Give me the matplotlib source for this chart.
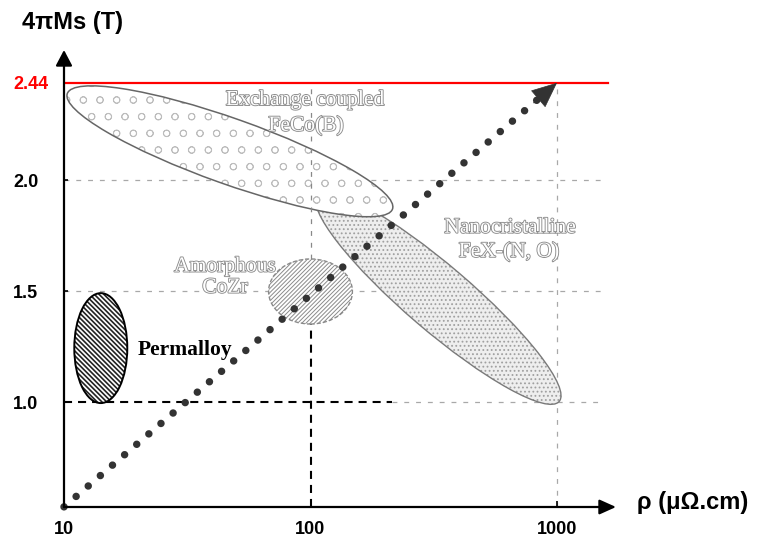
import numpy as np
import matplotlib
matplotlib.use('Agg')
import matplotlib.pyplot as plt
from matplotlib.patches import Ellipse
from matplotlib.transforms import Affine2D
import matplotlib.patheffects as pe

# ---------------- data ----------------
x_ticks = [10, 100, 1000]
x_tick_labels = ['10', '100', '1000']
y_ticks = [1.0, 1.5, 2.0, 2.44]
y_tick_labels = ['1.0', '1.5', '2.0', '2.44']
ms_limit = 2.44

trend_rho = [10, 1000]
trend_ms = [0.53, 2.44]

region_names = ['Permalloy', 'Amorphous CoZr', 'Exchange coupled FeCo(B)', 'Nanocristalline FeX-(N, O)']
region_rho = [14.1, 100, 47.1, 330]
region_ms = [1.245, 1.50, 2.1315, 1.47]
region_half_len = [0.1075, 0.170, 0.700, 0.645]   # in decades
region_half_wid = [0.223, 0.132, 0.1327, 0.132]   # in decade-equivalent
region_angle = [0, 0, -19.55, -40.5]

label_texts = ['Exchange coupled', 'FeCo(B)', 'Nanocristalline', 'FeX-(N, O)', 'Amorphous', 'CoZr']
label_rho = [95, 96, 644, 638, 45, 45]
label_ms = [2.36, 2.245, 1.785, 1.677, 1.61, 1.515]
permalloy_label = ('Permalloy', 31, 1.237)

# ---------------- figure ----------------
W, H = 758, 537
fig = plt.figure(figsize=(W / 100, H / 100), dpi=100)
plt.rcParams['lines.scale_dashes'] = False
plt.rcParams['hatch.linewidth'] = 1.0

ax_l, ax_r, ax_b, ax_t = 64, 616, 507, 50
ax = fig.add_axes([ax_l / W, 1 - ax_b / H, (ax_r - ax_l) / W, (ax_b - ax_t) / H])
xmin, xmax = 1.0, 1.0 + (ax_r - ax_l) / 246.5
ymin = 1.5 - (ax_b - 291.5) / 222.0
ymax = 1.5 + (291.5 - ax_t) / 222.0
ax.set_xlim(xmin, xmax)
ax.set_ylim(ymin, ymax)
for s in ax.spines.values():
    s.set_visible(False)
ax.patch.set_alpha(0)

# ratio px per T / px per decade
r = ((ax_b - ax_t) / (ymax - ymin)) / ((ax_r - ax_l) / (xmax - xmin))

# axes with arrows
ax.annotate('', xy=(0, 1), xytext=(0, 0), xycoords='axes fraction',
            arrowprops=dict(arrowstyle='-|>,head_length=9.5,head_width=5', mutation_scale=1,
                            lw=1.6, color='black', shrinkA=0, shrinkB=0), zorder=10)
ax.annotate('', xy=(1, 0), xytext=(0, 0), xycoords='axes fraction',
            arrowprops=dict(arrowstyle='-|>,head_length=10,head_width=4.5', mutation_scale=1,
                            lw=1.6, color='black', shrinkA=0, shrinkB=0), zorder=10)

# ticks
lx = np.log10(x_ticks)
ax.set_xticks(lx)
ax.set_xticklabels(x_tick_labels, fontfamily='Liberation Sans', fontweight='bold', fontsize=13)
ax.set_yticks(y_ticks)
ax.set_yticklabels(y_tick_labels, fontfamily='Liberation Sans', fontweight='bold', fontsize=13)
ax.tick_params(axis='x', direction='in', length=4, width=1.2, pad=10)
ax.tick_params(axis='y', direction='in', length=3, width=1.2, pad=36.5)
for lbl in ax.get_yticklabels():
    lbl.set_horizontalalignment('left')
ax.get_yticklabels()[-1].set_color('#ff0000')
ax.get_xticklabels()[0].set_x(lx[0] + 4 / 246.5)

gray = '#a8a8a8'
gdash = (0, (3.5, 5.0))
bdash = (0, (5.8, 4.3))
xf_end = (602 - ax_l) / (ax_r - ax_l)
xf_black = (392 - ax_l) / (ax_r - ax_l)

# horizontal guide lines
ax.axhline(ms_limit, xmin=0, xmax=(608 - ax_l) / (ax_r - ax_l), color='#ff0000', lw=1.6, zorder=4)
ax.axhline(2.0, xmin=0, xmax=xf_end, color=gray, lw=0.9, ls=gdash, zorder=1)
ax.axhline(1.5, xmin=0, xmax=xf_end, color=gray, lw=0.9, ls=gdash, zorder=1)
ax.axhline(1.0, xmin=0, xmax=xf_black, color='black', lw=1.5, ls=bdash, zorder=1)
ax.axhline(1.0, xmin=xf_black, xmax=xf_end, color=gray, lw=0.9, ls=gdash, zorder=1)

# vertical guide lines
x100 = np.log10(100)
x1000 = np.log10(1000)
co_i = 1
co_top = region_ms[co_i] + region_half_wid[co_i] / r
co_bot = region_ms[co_i] - region_half_wid[co_i] / r
ax.plot([x1000, x1000], [ymin, ms_limit], color=gray, lw=0.9, ls=gdash, zorder=1)
ax.plot([x100, x100], [co_top, ms_limit], color='#888888', lw=0.9, ls=gdash, zorder=4)
ax.plot([x100, x100], [ymin, co_bot], color='black', lw=1.5, ls=bdash, zorder=1)


def region(i, face, hatch, hcolor, ecolor, elw, els, z, hlw):
    tr = Affine2D().scale(1, 1 / r) + ax.transData
    xy = (np.log10(region_rho[i]), region_ms[i] * r)
    with plt.rc_context({'hatch.linewidth': hlw}):
        e1 = Ellipse(xy, 2 * region_half_len[i], 2 * region_half_wid[i], angle=region_angle[i],
                     facecolor=face, edgecolor=hcolor, hatch=hatch, lw=0, transform=tr, zorder=z)
    if hasattr(e1, 'set_hatch_linewidth'):
        e1.set_hatch_linewidth(hlw)
    ax.add_patch(e1)
    e2 = Ellipse(xy, 2 * region_half_len[i], 2 * region_half_wid[i], angle=region_angle[i],
                 fill=False, edgecolor=ecolor, lw=elw, ls=els, transform=tr, zorder=z + 0.1)
    ax.add_patch(e2)


region(3, '#eeeeee', '....', '#a0a0a0', '#7a7a7a', 1.0, '-', 2, 0.8)
region(2, 'white', 'o', '#bdbdbd', '#666666', 1.1, '-', 3, 0.6)
region(1, 'white', '////////', '#8a8a8a', '#8a8a8a', 1.0, (0, (3, 1.5)), 5, 0.7)
region(0, 'white', '\\' * 7, '#222222', 'black', 1.4, '-', 5, 1.2)

# trend dotted line with arrow
tx = np.log10(trend_rho)
ax.plot(tx, trend_ms, color='#333333', lw=5.4, ls=(0, (0.01, 11.5)),
        dash_capstyle='round', zorder=6, clip_on=False)
ax.annotate('', xy=(tx[1], trend_ms[1]), xytext=(-17, -14.5), textcoords='offset points',
            arrowprops=dict(arrowstyle='-|>,head_length=17,head_width=7.5', mutation_scale=1,
                            lw=0.5, color='#333333', shrinkA=0, shrinkB=0), zorder=7)

# labels
hollow = [pe.Stroke(linewidth=1.3, foreground='#8c8c8c'), pe.Normal()]
for t, rx, my in zip(label_texts, label_rho, label_ms):
    ax.text(np.log10(rx), my, t, ha='center', va='center', fontsize=15.5,
            fontfamily='Liberation Serif', color='white', path_effects=hollow, zorder=8)
ax.text(np.log10(permalloy_label[1]), permalloy_label[2], permalloy_label[0], ha='center',
        va='center', fontsize=15.5, fontfamily='Liberation Serif', fontweight='bold',
        color='black', zorder=8)

# axis titles
fig.text(22 / W, 1 - 22 / H, '4πMs (T)', ha='left', va='center', fontsize=17,
         fontfamily='Liberation Sans', fontweight='bold')
fig.text(637 / W, 1 - 503 / H, 'ρ (μΩ.cm)', ha='left', va='center', fontsize=17,
         fontfamily='Liberation Sans', fontweight='bold')

fig.savefig('out.png', dpi=100)
